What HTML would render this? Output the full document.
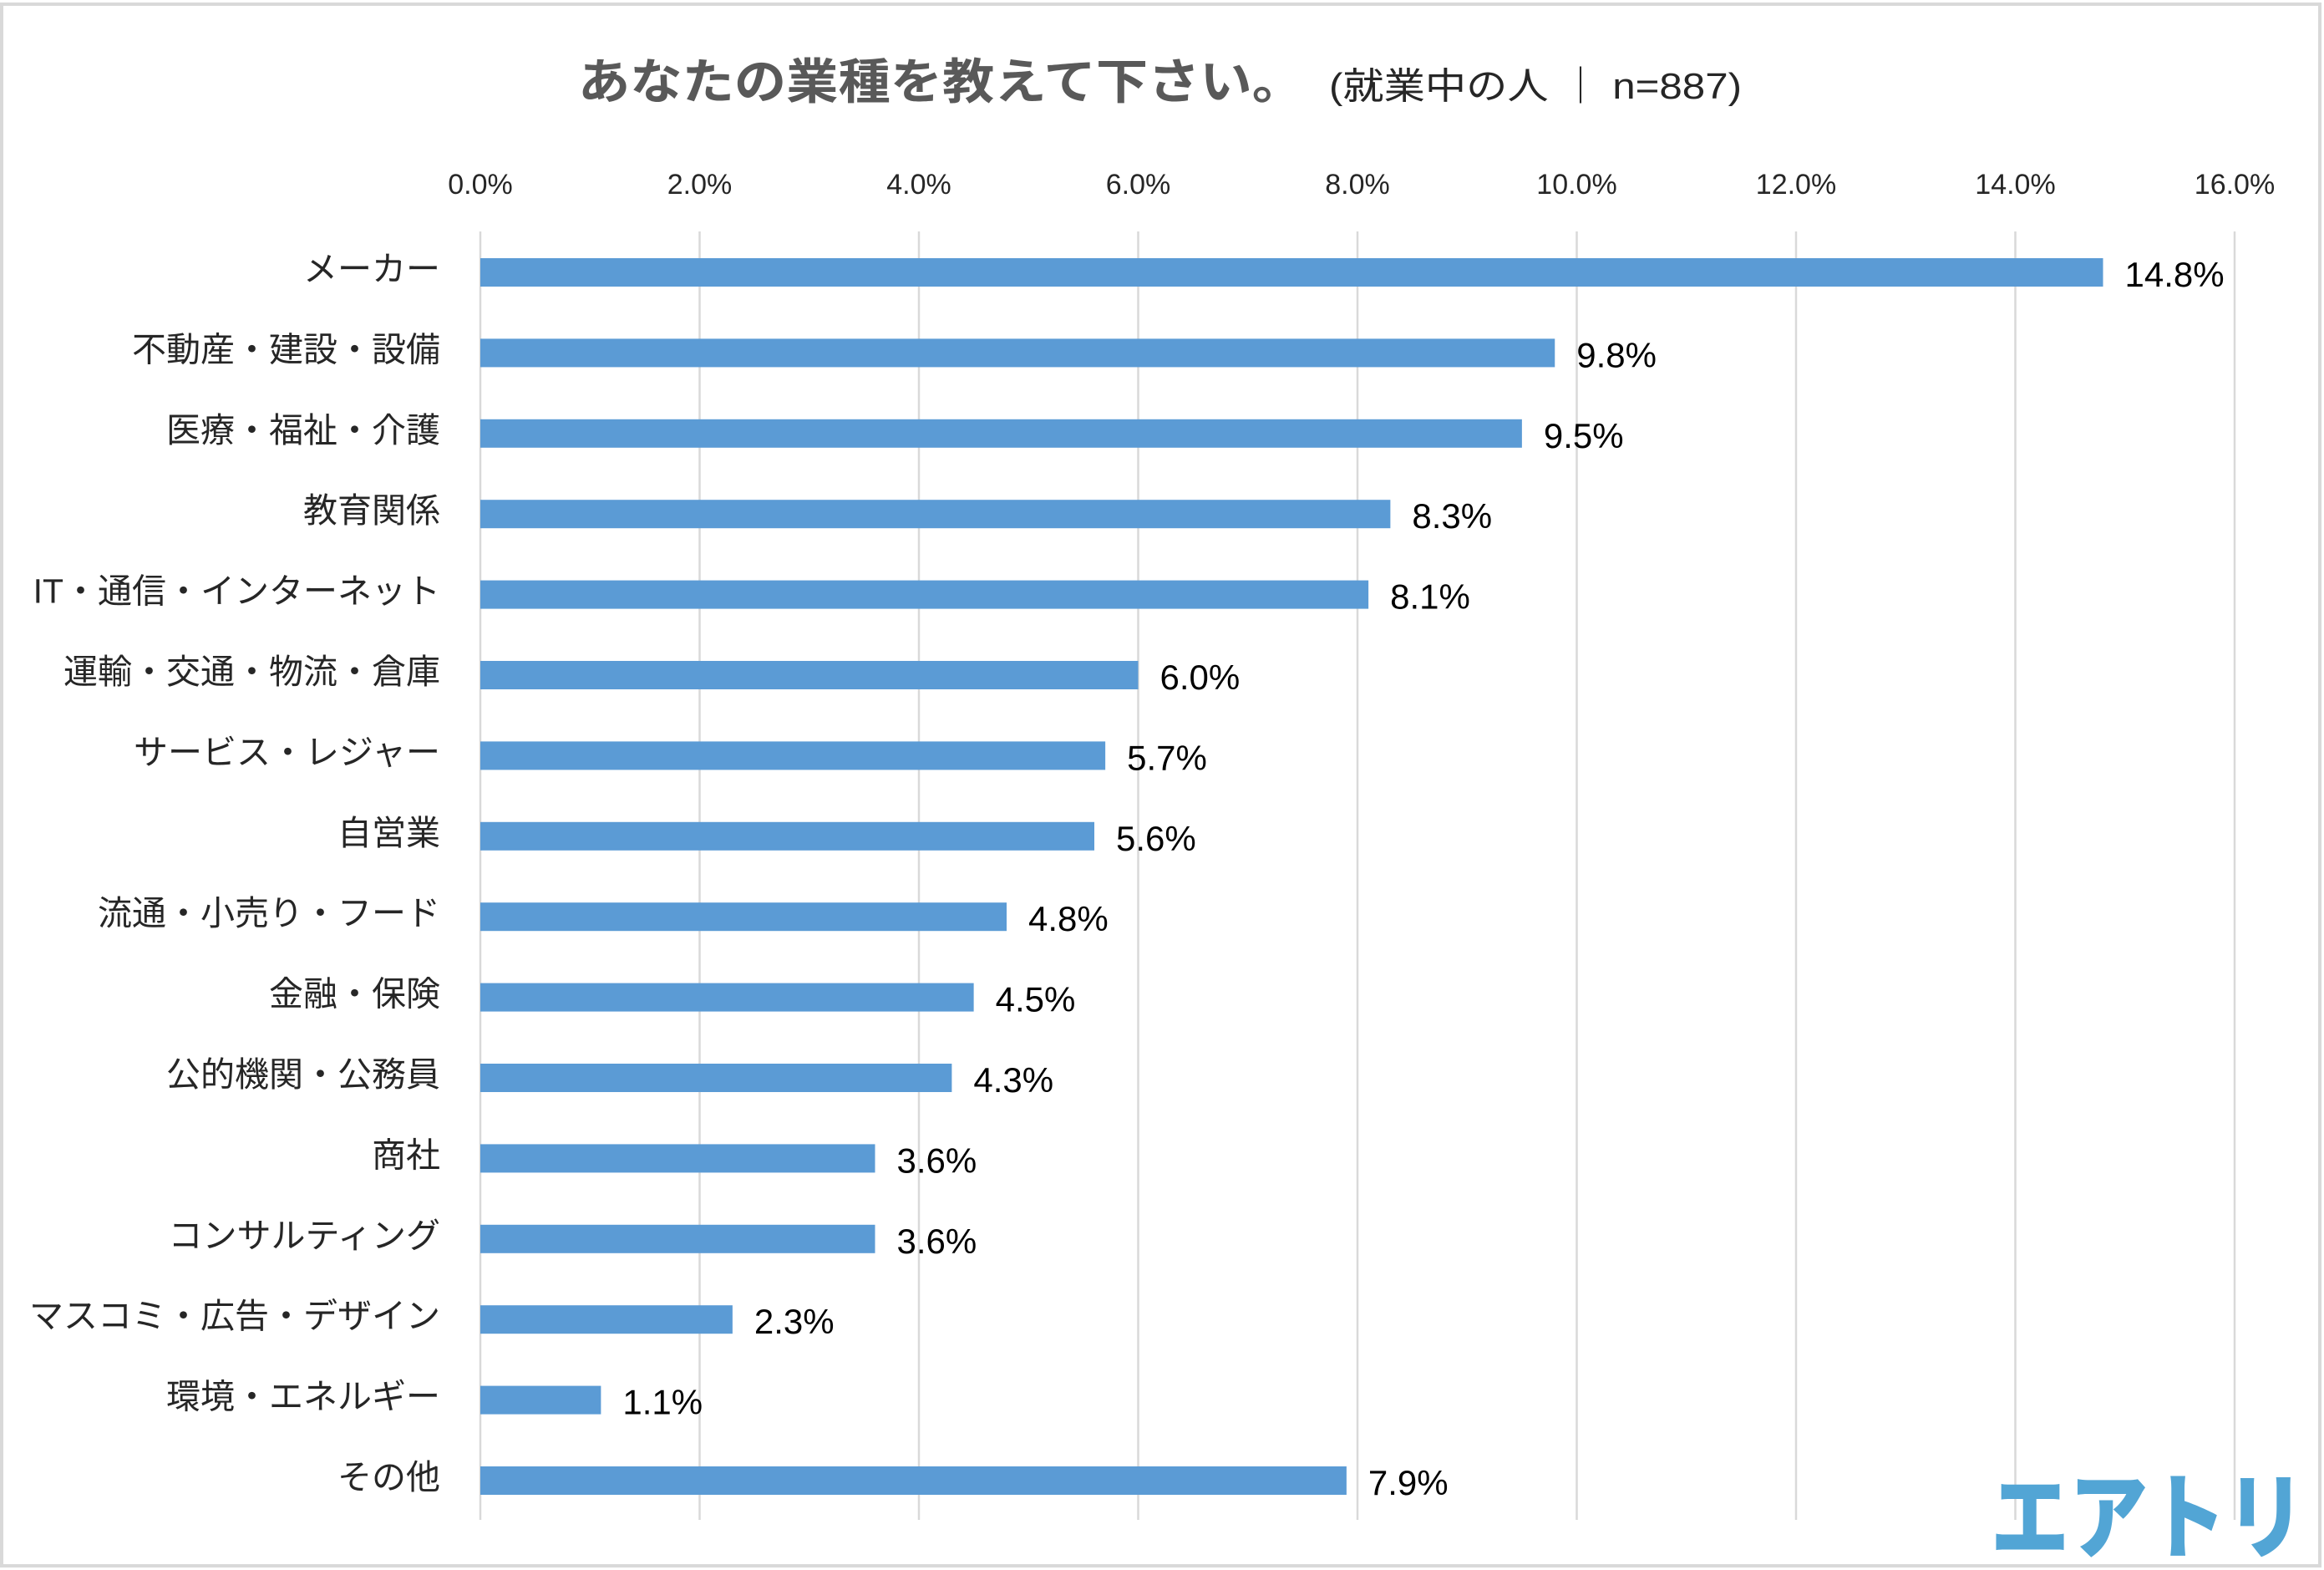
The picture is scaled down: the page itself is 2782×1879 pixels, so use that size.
<!DOCTYPE html>
<html><head><meta charset="utf-8"><style>
html,body{margin:0;padding:0;background:#fff;}
svg{display:block;}
text{font-family:"Liberation Sans","Noto Sans CJK JP",sans-serif;}
</style></head><body>
<svg id="chart" width="2782" height="1879" viewBox="0 0 2782 1879" xmlns="http://www.w3.org/2000/svg">
<rect x="2" y="5" width="2775" height="1869" fill="#fff" stroke="#d9d9d9" stroke-width="4"/>
<text x="692" y="118" font-size="58" font-weight="bold" fill="#595959" textLength="869" lengthAdjust="spacingAndGlyphs">あなたの業種を教えて下さい。</text>
<text x="1591" y="118" font-size="44" fill="#262626" textLength="494" lengthAdjust="spacingAndGlyphs">(就業中の人 ｜ n=887)</text>
<g id="grid"></g><g id="bars"></g>
<text x="2383" y="1856" font-size="112" font-weight="900" fill="#52a5d5" textLength="376" lengthAdjust="spacingAndGlyphs" font-family="'Noto Sans CJK JP',sans-serif">エアトリ</text>
</svg>
<script>
const categories=["メーカー","不動産・建設・設備","医療・福祉・介護","教育関係","IT・通信・インターネット","運輸・交通・物流・倉庫","サービス・レジャー","自営業","流通・小売り・フード","金融・保険","公的機関・公務員","商社","コンサルティング","マスコミ・広告・デザイン","環境・エネルギー","その他"];
const values=[14.8,9.8,9.5,8.3,8.1,6.0,5.7,5.6,4.8,4.5,4.3,3.6,3.6,2.3,1.1,7.9];
const ticks=[0,2,4,6,8,10,12,14,16];
const NS="http://www.w3.org/2000/svg";
const x0=575,x1=2675,vmax=16;
const xs=v=>x0+(x1-x0)*v/vmax;
const yTop=277,yBot=1819,band=96.4,firstCenter=326,barH=34;
const ys=i=>firstCenter+i*band;
const grid=document.getElementById('grid'),bars=document.getElementById('bars');
function mk(tag,attrs,parent){const e=document.createElementNS(NS,tag);for(const k in attrs)e.setAttribute(k,attrs[k]);parent.appendChild(e);return e;}
ticks.forEach(t=>{
  const l=mk('line',{x1:xs(t),x2:xs(t),y1:yTop,y2:yBot,stroke:'#d9d9d9','stroke-width':2.5},grid);
  
  
  const tx=mk('text',{x:xs(t),y:232,'font-size':34,'text-anchor':'middle',fill:'#262626'},grid);
  tx.textContent=t.toFixed(1)+'%';
  
  
});
categories.forEach((c,i)=>{
  const cy=ys(i);
  const r=mk('rect',{x:x0,y:cy-barH/2,width:xs(values[i])-x0,height:barH,fill:'#5b9bd5'},bars);
  
  
  const lb=mk('text',{x:527,y:cy+10,'font-size':41,'text-anchor':'end',fill:'#262626'},bars);
  lb.textContent=c;
  
  
  const vl=mk('text',{x:xs(values[i])+26,y:cy+17,'font-size':42,fill:'#000'},bars);
  vl.textContent=values[i].toFixed(1)+'%';
  
  
});
</script>
</body></html>
